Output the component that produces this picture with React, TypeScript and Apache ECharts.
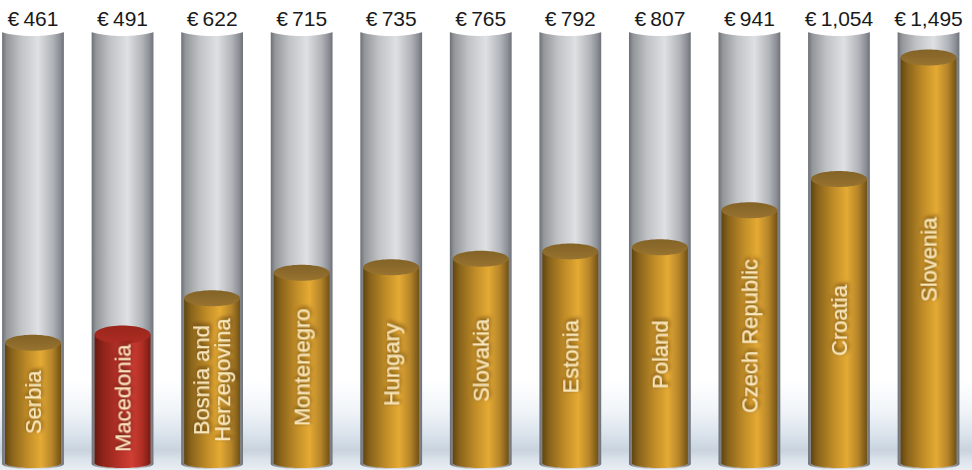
import React, { useEffect, useRef } from "react";
import * as echarts from "echarts";

const categories = [
  "Serbia",
  "Macedonia",
  "Bosnia and\nHerzegovina",
  "Montenegro",
  "Hungary",
  "Slovakia",
  "Estonia",
  "Poland",
  "Czech Republic",
  "Croatia",
  "Slovenia",
];
const values = [461, 491, 622, 715, 735, 765, 792, 807, 941, 1054, 1495];
const highlighted = ["Macedonia"];

const FONT = '"Liberation Sans", Arial, Helvetica, sans-serif';

const lin = (x2: number, y2: number, stops: [number, string][]) => ({
  type: "linear",
  x: 0,
  y: 0,
  x2,
  y2,
  colorStops: stops.map(([offset, color]) => ({ offset, color })),
});

const grayBody = lin(1, 0, [
  [0, "#6c7077"],
  [0.07, "#949799"],
  [0.3, "#c0c2c6"],
  [0.58, "#dfe0e3"],
  [0.82, "#b0b3b8"],
  [0.94, "#8a8d93"],
  [1, "#6e7279"],
]);
const goldBody = lin(1, 0, [
  [0, "#614510"],
  [0.12, "#88631b"],
  [0.4, "#c08c27"],
  [0.64, "#e4aa33"],
  [0.84, "#b6852a"],
  [1, "#705115"],
]);
const goldTop = lin(0, 1, [
  [0, "#836327"],
  [0.5, "#8c6a2b"],
  [1, "#997431"],
]);
const redBody = lin(1, 0, [
  [0, "#6a1810"],
  [0.15, "#8e2419"],
  [0.45, "#b8322a"],
  [0.66, "#cf3f34"],
  [0.85, "#b02e24"],
  [1, "#741b13"],
]);
const redTop = lin(0, 1, [
  [0, "#9a261c"],
  [1, "#ad2c22"],
]);

export default function App() {
  const ref = useRef<HTMLDivElement>(null);

  useEffect(() => {
    document.body.style.margin = "0";
    if (!ref.current) return;
    const chart = echarts.init(ref.current, null, { renderer: "svg" });
    const data = values.map((v, i) => [i, v]);

    const trackItem = (params: any, api: any) => {
      const i = api.value(0);
      const [cx] = api.coord([i, 0]);
      const band = api.size([1, 0])[0];
      const w = band * 0.69;
      const x0 = cx - w / 2;
      const top = 22;
      const bottom = 464;
      return {
        type: "group",
        children: [
          {
            type: "ellipse",
            shape: { cx, cy: bottom, rx: w / 2, ry: 5 },
            style: { fill: grayBody },
          },
          {
            type: "rect",
            shape: { x: x0, y: top, width: w, height: bottom - top },
            style: { fill: grayBody },
          },
          {
            type: "ellipse",
            shape: { cx, cy: 24, rx: 42, ry: 12 },
            style: { fill: "#ffffff" },
          },
        ],
      };
    };

    const barItem = (params: any, api: any) => {
      const i = api.value(0);
      const v = api.value(1);
      const [cx, cy] = api.coord([i, v]);
      const band = api.size([1, 0])[0];
      const w = band * 0.625;
      const x0 = cx - w / 2;
      const bottom = 463;
      const hl = highlighted.includes(categories[i]);
      const body = hl ? redBody : goldBody;
      const topFill = hl ? redTop : goldTop;
      const ry = hl ? 9 : 8;
      return {
        type: "group",
        children: [
          {
            type: "ellipse",
            shape: { cx, cy: bottom, rx: w / 2, ry: 5 },
            style: { fill: body },
          },
          {
            type: "rect",
            shape: { x: x0, y: cy, width: w, height: bottom - cy },
            style: { fill: body },
          },
          {
            type: "ellipse",
            shape: { cx, cy, rx: w / 2, ry },
            style: { fill: topFill },
          },
          {
            type: "text",
            x: cx,
            y: (cy + 462) / 2,
            rotation: Math.PI / 2,
            style: {
              text: categories[i],
              fill: "#f9e8c2",
              fontSize: 22,
              fontFamily: FONT,
              lineHeight: 21,
              align: "center",
              verticalAlign: "middle",
              textShadowColor: "rgba(45,25,0,0.8)",
              textShadowBlur: 4,
              textShadowOffsetX: 2,
              textShadowOffsetY: 1,
            },
          },
          {
            type: "text",
            x: cx,
            y: 18,
            style: {
              text: "€\u2009" + v.toLocaleString("en-US"),
              fill: "#1a1a1a",
              fontSize: 21,
              fontFamily: FONT,
              align: "center",
              verticalAlign: "middle",
            },
          },
        ],
      };
    };

    chart.setOption({
      animation: false,
      backgroundColor: "#ffffff",
      grid: { left: 0, right: 0, top: 0, height: 476 },
      xAxis: { type: "value", min: -0.3685, max: 10.4855, show: false },
      yAxis: { type: "value", min: 0, max: 1703, show: false },
      graphic: [
        {
          type: "rect",
          z: -10,
          shape: { x: 0, y: 380, width: 972, height: 90 },
          style: {
            fill: lin(0, 1, [
              [0, "#ffffff"],
              [0.35, "#f0f4f8"],
              [0.62, "#d9e2eb"],
              [0.78, "#c9d3de"],
              [0.9, "#dde4ec"],
              [1, "#e9eef3"],
            ]),
          },
        },
      ],
      series: [
        {
          type: "custom",
          z: 2,
          renderItem: trackItem,
          data,
          silent: true,
        },
        {
          type: "custom",
          z: 3,
          renderItem: barItem,
          data,
          silent: true,
        },
      ],
    });

    return () => chart.dispose();
  }, []);

  return (
    <div
      ref={ref}
      style={{ position: "absolute", left: 0, top: 0, width: 972, height: 470 }}
    />
  );
}
